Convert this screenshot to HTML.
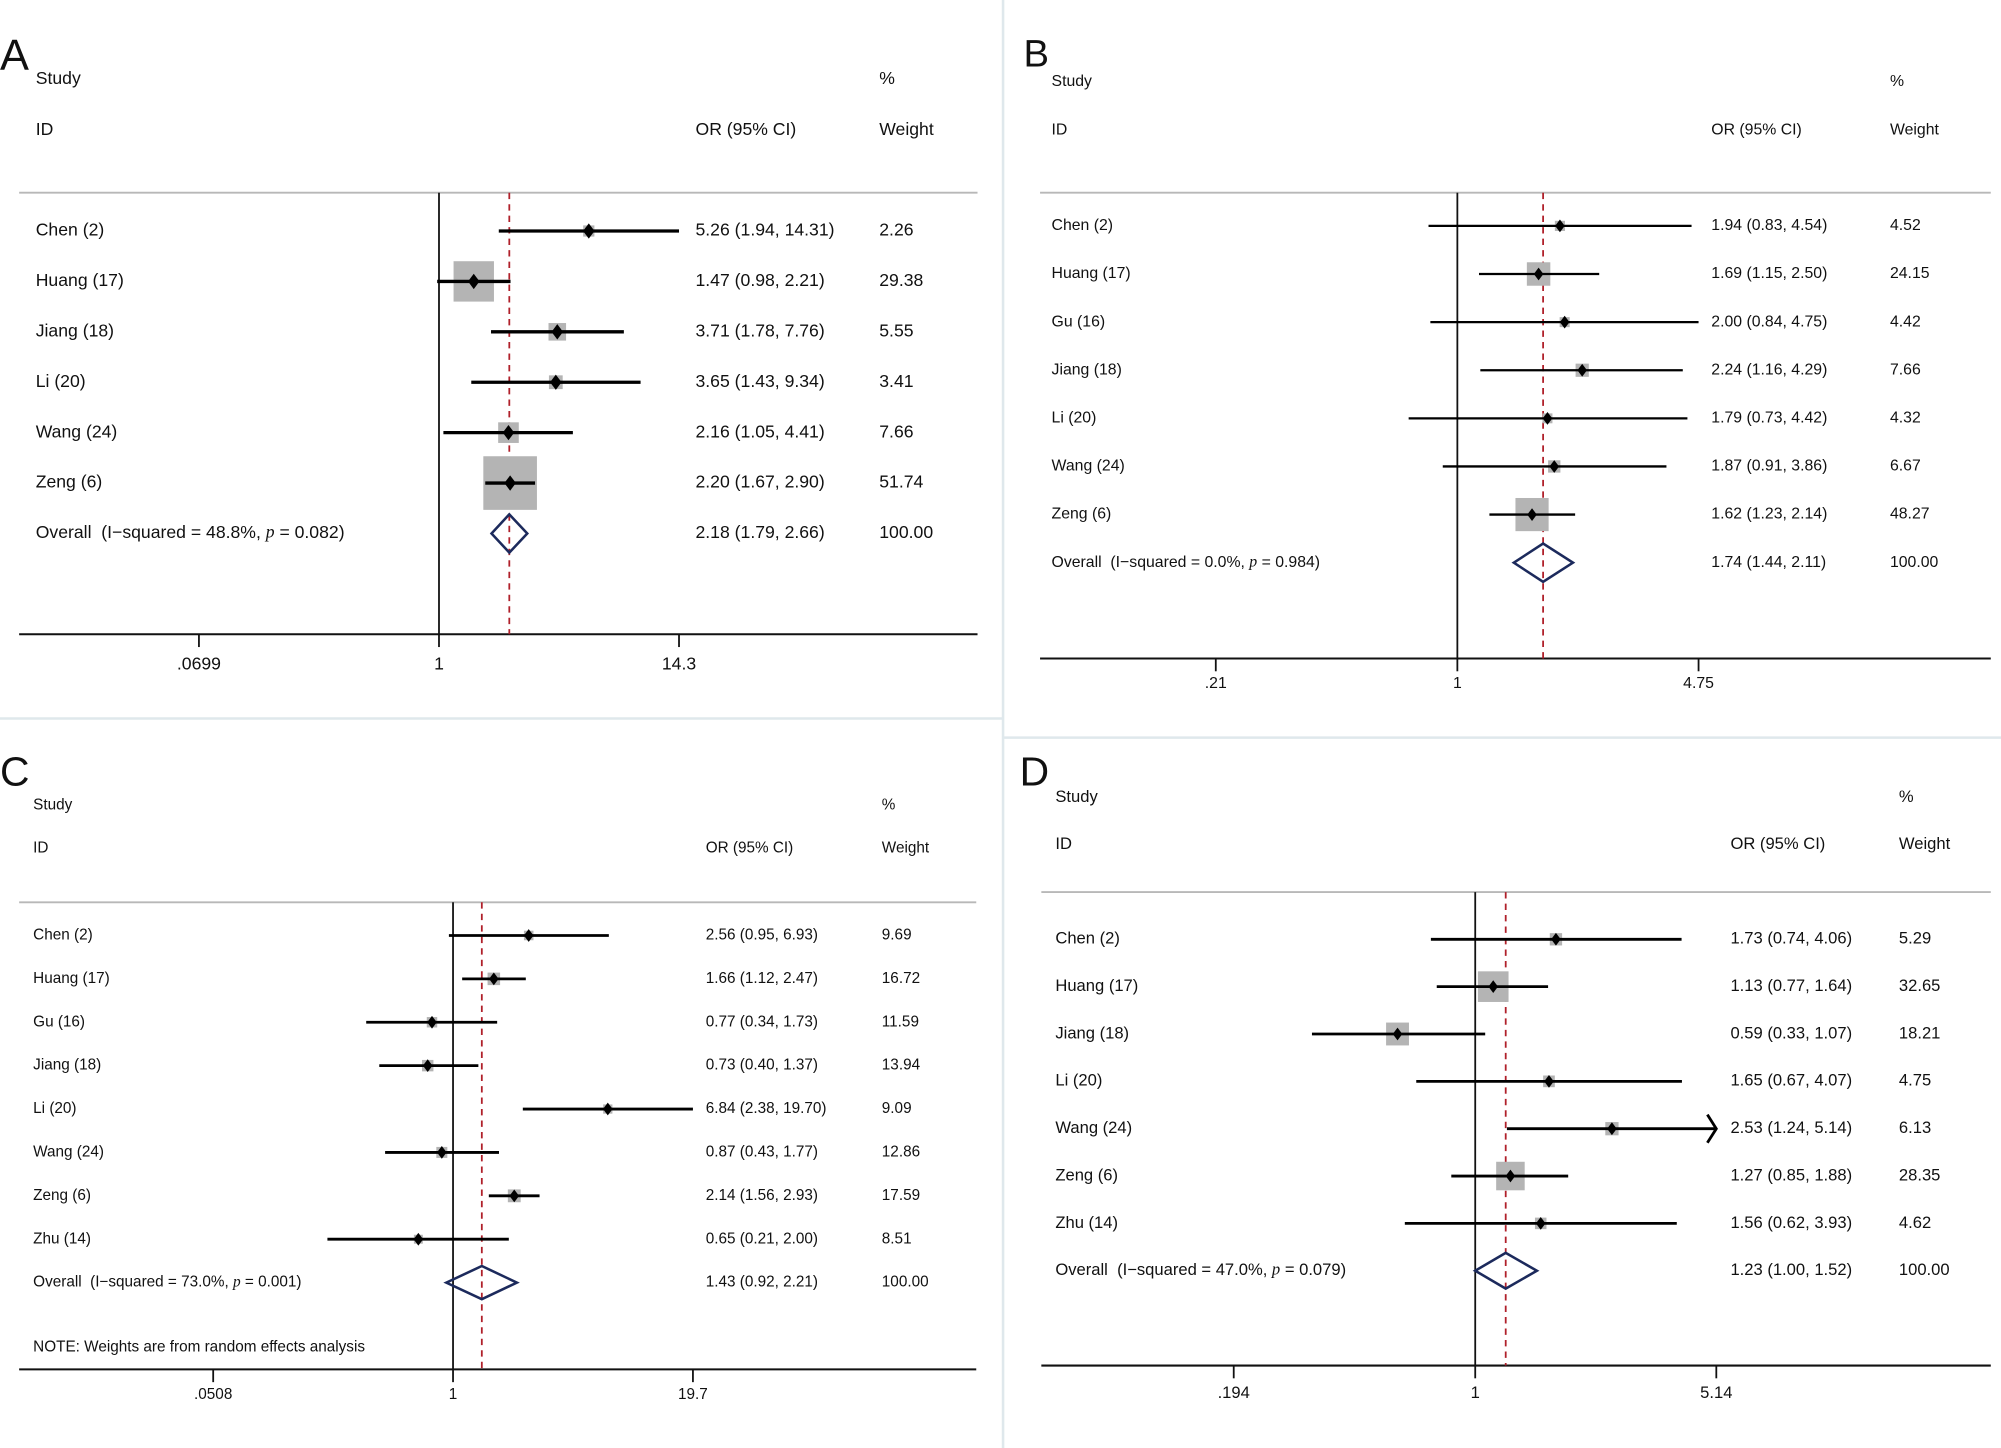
<!DOCTYPE html>
<html><head><meta charset="utf-8"><style>
html,body{margin:0;padding:0;background:#fff;}
svg{display:block;}
text{font-family:"Liberation Sans Narrow","Liberation Sans",sans-serif;fill:#111;}
</style></head><body>
<svg id="fig" xmlns="http://www.w3.org/2000/svg" width="2001" height="1448" viewBox="0 0 1568 1134.6" preserveAspectRatio="none">
<rect x="0" y="0" width="1568" height="1135" fill="#fff"/>
<line x1="786" y1="0" x2="786" y2="1135" stroke="#dfe8ec" stroke-width="2"/>
<line x1="0" y1="563" x2="786" y2="563" stroke="#dfe8ec" stroke-width="2"/>
<line x1="786" y1="578" x2="1568" y2="578" stroke="#dfe8ec" stroke-width="2"/>
</svg>
<script>
// Panel A data
const namesA = ["Chen (2)","Huang (17)","Jiang (18)","Li (20)","Wang (24)","Zeng (6)"];
const orA = [5.26,1.47,3.71,3.65,2.16,2.20];
const loA = [1.94,0.98,1.78,1.43,1.05,1.67];
const hiA = [14.31,2.21,7.76,9.34,4.41,2.90];
const wA = [2.26,29.38,5.55,3.41,7.66,51.74];
const overallA = [2.18,1.79,2.66];
const statA = ["48.8%","0.082"];
const ticksA = [0.0699,1,14.3];
const tickLabelsA = [".0699","1","14.3"];
// Panel B data
const namesB = ["Chen (2)","Huang (17)","Gu (16)","Jiang (18)","Li (20)","Wang (24)","Zeng (6)"];
const orB = [1.94,1.69,2.00,2.24,1.79,1.87,1.62];
const loB = [0.83,1.15,0.84,1.16,0.73,0.91,1.23];
const hiB = [4.54,2.50,4.75,4.29,4.42,3.86,2.14];
const wB = [4.52,24.15,4.42,7.66,4.32,6.67,48.27];
const overallB = [1.74,1.44,2.11];
const statB = ["0.0%","0.984"];
const ticksB = [0.21,1,4.75];
const tickLabelsB = [".21","1","4.75"];
// Panel C data
const namesC = ["Chen (2)","Huang (17)","Gu (16)","Jiang (18)","Li (20)","Wang (24)","Zeng (6)","Zhu (14)"];
const orC = [2.56,1.66,0.77,0.73,6.84,0.87,2.14,0.65];
const loC = [0.95,1.12,0.34,0.40,2.38,0.43,1.56,0.21];
const hiC = [6.93,2.47,1.73,1.37,19.70,1.77,2.93,2.00];
const wC = [9.69,16.72,11.59,13.94,9.09,12.86,17.59,8.51];
const overallC = [1.43,0.92,2.21];
const statC = ["73.0%","0.001"];
const ticksC = [0.0508,1,19.7];
const tickLabelsC = [".0508","1","19.7"];
// Panel D data
const namesD = ["Chen (2)","Huang (17)","Jiang (18)","Li (20)","Wang (24)","Zeng (6)","Zhu (14)"];
const orD = [1.73,1.13,0.59,1.65,2.53,1.27,1.56];
const loD = [0.74,0.77,0.33,0.67,1.24,0.85,0.62];
const hiD = [4.06,1.64,1.07,4.07,5.14,1.88,3.93];
const wD = [5.29,32.65,18.21,4.75,6.13,28.35,4.62];
const overallD = [1.23,1.00,1.52];
const statD = ["47.0%","0.079"];
const ticksD = [0.194,1,5.14];
const tickLabelsD = [".194","1","5.14"];

const NS="http://www.w3.org/2000/svg";
const svg=document.getElementById('fig');
function mk(tag,attrs,parent){const e=document.createElementNS(NS,tag);for(const k in attrs)e.setAttribute(k,attrs[k]);(parent||svg).appendChild(e);return e;}
function txt(x,y,s,size,parent,anchor){const t=mk('text',{x:x,y:y,'font-size':size,'dominant-baseline':'middle','text-anchor':anchor||'start'},parent);t.textContent=s;return t;}

function panel(cfg,names,or,lo,hi,w,overall,stat,ticks,tickLabels){
  const g=mk('g',{});
  
  
  const L=txt(cfg.letterX,cfg.letterY,cfg.id,cfg.letterSize,g);
  L.setAttribute('font-family','Liberation Sans, sans-serif');
  
  
  const fs=cfg.fs;
  let t;
  t=txt(cfg.colName,cfg.hy1,'Study',fs,g);
  t=txt(cfg.colName,cfg.hy2,'ID',fs,g);
  t=txt(cfg.colOR,cfg.hy2,'OR (95% CI)',fs,g);
  t=txt(cfg.colW,cfg.hy1,'%',fs,g);
  t=txt(cfg.colW,cfg.hy2,'Weight',fs,g);
  const xs=v=>cfg.x1+Math.log(v)*cfg.ppu;
  let l=mk('line',{x1:cfg.left,x2:cfg.right,y1:cfg.top,y2:cfg.top,stroke:'#b8b8b8','stroke-width':1.5},g);
  
  l=mk('line',{x1:cfg.left,x2:cfg.right,y1:cfg.axisY,y2:cfg.axisY,stroke:'#111','stroke-width':1.6},g);
  
  l=mk('line',{x1:xs(1),x2:xs(1),y1:cfg.top,y2:cfg.axisY,stroke:'#111','stroke-width':1.4},g);
  
  l=mk('line',{x1:xs(overall[0]),x2:xs(overall[0]),y1:cfg.top,y2:cfg.axisY,stroke:'#b0202a','stroke-width':1.4,'stroke-dasharray':'5,4'},g);
  
  ticks.forEach((tv,i)=>{
    const x=xs(tv);
    const tk=mk('line',{x1:x,x2:x,y1:cfg.axisY,y2:cfg.axisY+10,stroke:'#111','stroke-width':1.4},g);
    
    const tl=txt(x,cfg.tickLabelY,tickLabels[i],fs,g,'middle');
    
  });
  const maxT=ticks[ticks.length-1];
  names.forEach((n,i)=>{
    const y=cfg.row0+i*cfg.rowH;
    const nm=txt(cfg.colName,y,n,fs,g);
    const s=cfg.k*Math.sqrt(w[i]);
    const b=mk('rect',{x:xs(or[i])-s/2,y:y-s/2,width:s,height:s,fill:'#b4b4b4'},g);
    
    const hx=Math.min(xs(hi[i]),xs(maxT));
    const ci=mk('line',{x1:xs(lo[i]),x2:hx,y1:y,y2:y,stroke:'#000','stroke-width':cfg.lw},g);
    
    if(cfg.arrows && hi[i]>=maxT){
      const a=mk('path',{d:`M${hx-7},${y-11} L${hx},${y} L${hx-7},${y+11}`,fill:'none',stroke:'#000','stroke-width':cfg.lw},g);
      
    }
    const px=xs(or[i]),d=cfg.dm;
    const p=mk('path',{d:`M${px-d*0.75},${y} L${px},${y-d} L${px+d*0.75},${y} L${px},${y+d} Z`,fill:'#000'},g);
    
    const o=txt(cfg.colOR,y,or[i].toFixed(2)+' ('+lo[i].toFixed(2)+', '+hi[i].toFixed(2)+')',fs,g);
    
    const wt=txt(cfg.colW,y,w[i].toFixed(2),fs,g);
    
  });
  const oy=cfg.row0+names.length*cfg.rowH;
  const ot=mk('text',{x:cfg.colName,y:oy,'font-size':fs,'dominant-baseline':'middle'},g);
  
  ot.appendChild(document.createTextNode('Overall\u00a0\u00a0(I\u2212squared = '+stat[0]+', '));
  const it=mk('tspan',{'font-style':'italic','font-family':'Liberation Serif, serif'},ot);it.textContent='p';
  ot.appendChild(document.createTextNode(' = '+stat[1]+')'));
  const h=cfg.dh;
  const dmd=mk('path',{d:`M${xs(overall[1])},${oy} L${xs(overall[0])},${oy-h} L${xs(overall[2])},${oy} L${xs(overall[0])},${oy+h} Z`,fill:'none',stroke:'#1c2a5c','stroke-width':2},g);
  
  let o2=txt(cfg.colOR,oy,overall[0].toFixed(2)+' ('+overall[1].toFixed(2)+', '+overall[2].toFixed(2)+')',fs,g);
  
  o2=txt(cfg.colW,oy,'100.00',fs,g);
  
  if(cfg.note){const nt=txt(cfg.colName,cfg.noteY,'NOTE: Weights are from random effects analysis',fs,g);}
}

panel({id:'A',letterX:0,letterY:46,letterSize:34,colName:28,colOR:545,colW:689,hy1:62,hy2:102,left:15,right:766,top:151,axisY:497,x1:344,ppu:70.7,tickLabelY:521,row0:181,rowH:39.5,k:5.84,lw:2.6,dm:6,dh:15,fs:13.8},namesA,orA,loA,hiA,wA,overallA,statA,ticksA,tickLabelsA);
panel({id:'B',letterX:802,letterY:44,letterSize:30,colName:824,colOR:1341,colW:1481,hy1:64,hy2:102,left:815,right:1560,top:151,axisY:516,x1:1142,ppu:121.3,tickLabelY:536,row0:177,rowH:37.7,k:3.74,lw:1.8,dm:5,dh:15,fs:12.4},namesB,orB,loB,hiB,wB,overallB,statB,ticksB,tickLabelsB);
panel({id:'C',letterX:0,letterY:607,letterSize:32,colName:26,colOR:553,colW:691,hy1:631,hy2:665,left:15,right:765,top:707,axisY:1073,x1:355,ppu:63.07,tickLabelY:1093,row0:733,rowH:34,k:2.4,lw:2.2,dm:5,dh:13,fs:12},namesC,orC,loC,hiC,wC,overallC,statC,ticksC,tickLabelsC);
panel({id:'D',letterX:799,letterY:607,letterSize:32,colName:827,colOR:1356,colW:1488,hy1:625,hy2:662,left:816,right:1560,top:699,axisY:1070,x1:1156,ppu:115.4,tickLabelY:1092,row0:736,rowH:37.1,k:4.2,lw:2.2,dm:5,dh:14,fs:13,arrows:true},namesD,orD,loD,hiD,wD,overallD,statD,ticksD,tickLabelsD);
const noteEl=txt(26,1056,'NOTE: Weights are from random effects analysis',12);


</script>
</body></html>
